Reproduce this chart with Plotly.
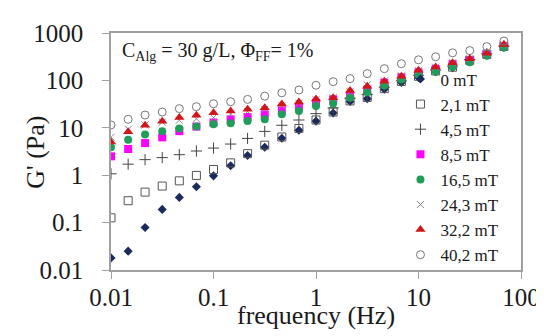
import plotly.graph_objects as go

frequency = [0.01, 0.0147, 0.0215, 0.0316, 0.0464, 0.0681, 0.1, 0.147, 0.215, 0.316,
             0.464, 0.681, 1, 1.47, 2.15, 3.16, 4.64, 6.81, 10, 14.7, 21.5, 31.6, 46.4, 68.1]

g_0mT = [0.018, 0.025, 0.079, 0.19, 0.34, 0.57, 0.97, 1.58, 2.6, 3.9, 6.0, 8.9,
         13.8, 20.5, 36, 41, 65, 90, 115, 152, 185, 260, 347, 510]
g_2_1mT = [0.126, 0.29, 0.44, 0.59, 0.76, 0.99, 1.32, 1.82, 2.85, 4.3, 6.4, 9.7,
           14.6, 21.5, 37, 43.6, 67, 95, 122, 158, 190, 265, 355, 520]
g_4_5mT = [1.07, 1.71, 2.13, 2.35, 2.71, 3.24, 3.74, 4.54, 5.97, 8.4, 11.3, 14.6,
           19.9, 26.4, 42, 50, 72, 98, 128, 165, 200, 275, 365, 530]
g_8_5mT = [2.5, 3.57, 4.76, 6.27, 8.5, 10.6, 12.9, 15.1, 16.9, 19.3, 23.3, 26.6,
           33.8, 39.7, 48, 64, 89, 116, 148, 174, 221, 263, 347, 535]
g_16_5mT = [3.87, 5.58, 7.24, 8.5, 9.7, 10.6, 11.9, 12.5, 13.9, 15.1, 19.3, 22.6,
            28.7, 32.7, 43, 56, 78, 104, 132, 155, 194, 241, 330, 497]
g_24_3mT = [6.3, 9.3, 11.5, 13.2, 14.4, 15.5, 16.4, 19.5, 22, 24.5, 29, 33,
            39, 43, 58, 80, 98, 125, 160, 190, 235, 285, 370, 560]
g_32_2mT = [5.0, 8.3, 11.3, 13.7, 16.4, 18.5, 20.9, 22.6, 24.5, 26.6, 31.9, 35.2,
            40.6, 43, 61, 75, 96, 122, 163, 192, 236, 286, 373, 573]
g_40_2mT = [11.5, 15.1, 18.6, 21.5, 25.4, 27.9, 32.2, 35.5, 39.7, 46.5, 54.7, 62.8,
            79, 94, 109, 139, 177, 225, 272, 315, 382, 426, 517, 680]

series_names = ["0 mT", "2,1 mT", "4,5 mT", "8,5 mT", "16,5 mT", "24,3 mT", "32,2 mT", "40,2 mT"]
series_values = [g_0mT, g_2_1mT, g_4_5mT, g_8_5mT, g_16_5mT, g_24_3mT, g_32_2mT, g_40_2mT]

x_tick_vals = [0.01, 0.1, 1, 10, 100]
x_tick_text = ["0.01", "0.1", "1", "10", "100"]
y_tick_vals = [0.01, 0.1, 1, 10, 100, 1000]
y_tick_text = ["0.01", "0.1", "1", "10", "100", "1000"]

styles = [
    dict(symbol="diamond", color="#1b2a5c", size=7, line=dict(width=0)),
    dict(symbol="square-open", color="#555555", size=8, line=dict(width=1, color="#555555")),
    dict(symbol="cross-thin-open", color="#444444", size=8, line=dict(width=1, color="#444444")),
    dict(symbol="square", color="#ff00ff", size=8, line=dict(width=0)),
    dict(symbol="circle", color="#1f9e5a", size=8, line=dict(width=0)),
    dict(symbol="x-thin-open", color="#8a8a8a", size=7, line=dict(width=1, color="#8a8a8a")),
    dict(symbol="triangle-up", color="#d0161b", size=9, line=dict(width=0)),
    dict(symbol="circle-open", color="#777777", size=8, line=dict(width=1, color="#777777")),
]

fig = go.Figure()
for name, vals, st in zip(series_names, series_values, styles):
    fig.add_trace(go.Scatter(x=frequency, y=vals, mode="markers", name=name, marker=st))

font_family = "Liberation Serif, Times New Roman, serif"
axis_common = dict(
    showline=True, linecolor="#a0a0a0", linewidth=1.5, mirror=True,
    showgrid=False, zeroline=False, ticks="outside", ticklen=7, tickcolor="#a0a0a0",
    tickfont=dict(family=font_family, size=25, color="#1a1a1a"),
)

fig.update_layout(
    width=544, height=336,
    margin=dict(l=103, r=27, t=23, b=74),
    paper_bgcolor="white", plot_bgcolor="white",
    font=dict(family=font_family, color="#1a1a1a"),
    xaxis=dict(type="log", range=[-2, 2], tickvals=x_tick_vals, ticktext=x_tick_text,
               ticklabelstandoff=-3, **axis_common),
    yaxis=dict(type="log", range=[-2, 3], tickvals=y_tick_vals, ticktext=y_tick_text,
               ticklabelstandoff=14, **axis_common),
    legend=dict(x=0.706, y=0.88, xanchor="left", yanchor="top",
                font=dict(family=font_family, size=17, color="#1a1a1a"),
                bgcolor="rgba(0,0,0,0)", borderwidth=0, tracegroupgap=0),
    showlegend=True,
    annotations=[
        dict(text="C<sub>Alg</sub> = 30 g/L, Φ<sub>FF</sub>= 1%",
             xref="paper", yref="paper", x=0.022, y=0.985, xanchor="left", yanchor="top",
             showarrow=False, font=dict(family=font_family, size=20, color="#1a1a1a")),
        dict(text="frequency (Hz)", xref="paper", yref="paper", x=0.5, y=-0.19,
             xanchor="center", yanchor="middle", showarrow=False,
             font=dict(family=font_family, size=26, color="#1a1a1a")),
        dict(text="G' (Pa)", xref="paper", yref="paper", x=-0.184, y=0.497,
             xanchor="center", yanchor="middle", textangle=-90, showarrow=False,
             font=dict(family=font_family, size=26, color="#1a1a1a")),
    ],
)

fig.write_html("out.html")
